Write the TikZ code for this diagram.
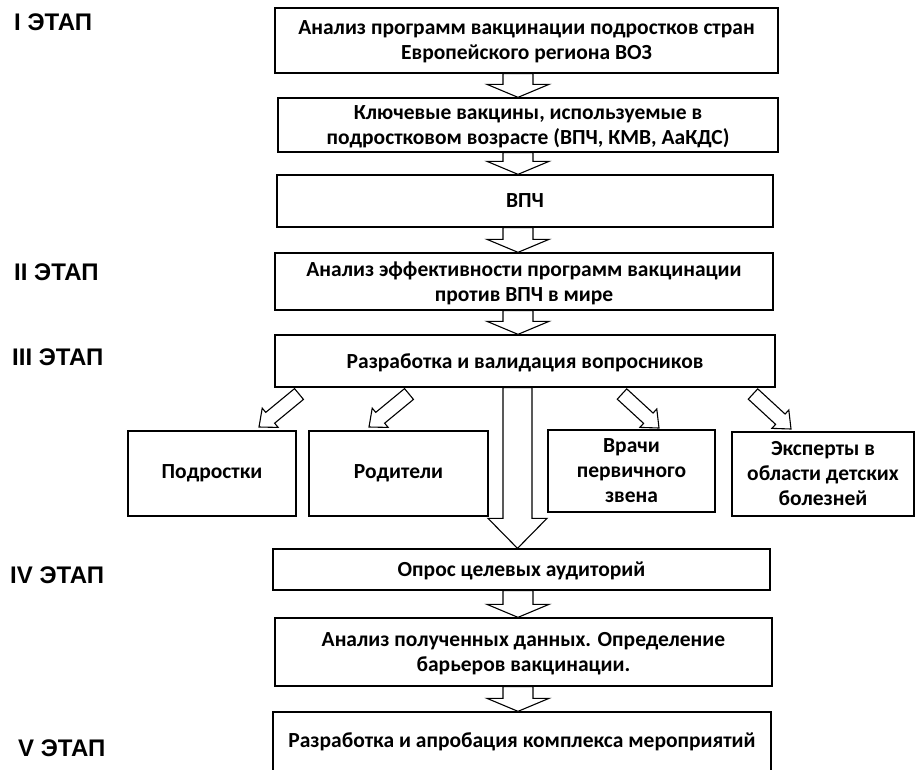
\documentclass[tikz,border=0pt]{standalone}
\usepackage{fontspec}
\setmainfont{Carlito}
\newfontfamily\lblfont{Liberation Sans}
\usetikzlibrary{calc}
\newcommand\blockarr[5]{% #1 tail, #2 tip, #3 shaft half width, #4 head half width, #5 head length
  \path ($(#2)!#5!(#1)$) coordinate (hb);
  \draw[arrline] ($(#1)!#3!90:(#2)$) -- ($(hb)!#3!90:(#2)$) -- ($(hb)!#4!90:(#2)$) -- (#2)
     -- ($(hb)!#4!-90:(#2)$) -- ($(hb)!#3!-90:(#2)$) -- ($(#1)!#3!-90:(#2)$) -- cycle;
}
\begin{document}
\begin{tikzpicture}[x=1pt,y=-1pt,
  box/.style={draw, line width=1.3pt, fill=white, align=center, inner sep=0pt,
    font=\bfseries\fontsize{21.5}{25}\selectfont},
  nodepth/.style={text depth=0pt},
  stage/.style={anchor=west, inner sep=0pt, font=\lblfont\bfseries\fontsize{24}{28}\selectfont},
  arrline/.style={line width=1.1pt, fill=white, line join=miter}]
\clip (0,0) rectangle (916,769);
\fill[white] (0,0) rectangle (916,769);

% stage labels
\node[stage] (s1) at (14,22) {I ЭТАП};
\node[stage] (s2) at (14,272) {II ЭТАП};
\node[stage] (s3) at (12,357) {III ЭТАП};
\node[stage] (s4) at (10,575) {IV ЭТАП};
\node[stage] (s5) at (18,748) {V ЭТАП};

% main boxes
\node[box, nodepth, minimum width=503pt, minimum height=65pt] (b1) at (526.5,40.5)
  {Анализ программ вакцинации подростков стран\\Европейского региона ВОЗ};
\node[box, nodepth, minimum width=500pt, minimum height=54pt] (b2) at (528,125)
  {Ключевые вакцины, используемые в\\подростковом возрасте (ВПЧ, КМВ, АаКДС)};
\node[box, minimum width=496pt, minimum height=52pt] (b3) at (525,201) {ВПЧ};
\node[box, nodepth, minimum width=498pt, minimum height=57pt] (b4) at (524,281.5)
  {Анализ эффективности программ вакцинации\\против ВПЧ в мире};
\node[box, nodepth, minimum width=500pt, minimum height=52pt] (b5) at (525,361)
  {Разработка и валидация вопросников};

% target groups
\node[box, minimum width=168pt, minimum height=85pt] (p1) at (212,473.5) {Подростки};
\node[box, minimum width=179pt, minimum height=85pt] (p2) at (398.5,473.5) {Родители};
\node[box, minimum width=167pt, minimum height=82pt] (p3) at (631.5,471) {Врачи\\первичного\\звена};
\node[box, minimum width=182pt, minimum height=84pt] (p4) at (823,474) {Эксперты в\\области детских\\болезней};

\node[box, nodepth, minimum width=497pt, minimum height=41pt] (b6) at (521.5,569.5) {Опрос целевых аудиторий};
\node[box, nodepth, minimum width=497pt, minimum height=68pt] (b7) at (523.5,652)
  {Анализ полученных данных. Определение\\барьеров вакцинации.};
\node[box, minimum width=498pt, minimum height=60pt] (b8) at (522,742)
  {Разработка и апробация комплекса мероприятий};

% arrow axis
\coordinate (ax) at (518,0);
\coordinate (bx) at (517.5,0);

\blockarr{ax |- b1.south}{ax |- b2.north}{15pt}{31pt}{13pt}
\blockarr{ax |- b2.south}{ax |- b3.north}{15pt}{31pt}{13pt}
\blockarr{ax |- b3.south}{ax |- b4.north}{15pt}{31pt}{13pt}
\blockarr{ax |- b4.south}{ax |- b5.north}{15pt}{31pt}{13pt}
\blockarr{bx |- b5.south}{bx |- b6.north}{14.5pt}{29.5pt}{30pt}
\blockarr{ax |- b6.south}{ax |- b7.north}{15pt}{31pt}{13pt}
\blockarr{ax |- b7.south}{ax |- b8.north}{15pt}{31pt}{13pt}

% diagonal arrows
\coordinate (d1s) at (299,394); \coordinate (d1e) at (259,427);
\coordinate (d2s) at (409,394); \coordinate (d2e) at (369,427);
\coordinate (d3s) at (622,394); \coordinate (d3e) at (659,428);
\coordinate (d4s) at (753,394); \coordinate (d4e) at (791,429);
\blockarr{d1s}{d1e}{7pt}{12.5pt}{14.5pt}
\blockarr{d2s}{d2e}{7pt}{12.5pt}{14.5pt}
\blockarr{d3s}{d3e}{7pt}{12.5pt}{14.5pt}
\blockarr{d4s}{d4e}{7pt}{12.5pt}{14.5pt}
\end{tikzpicture}
\end{document}
